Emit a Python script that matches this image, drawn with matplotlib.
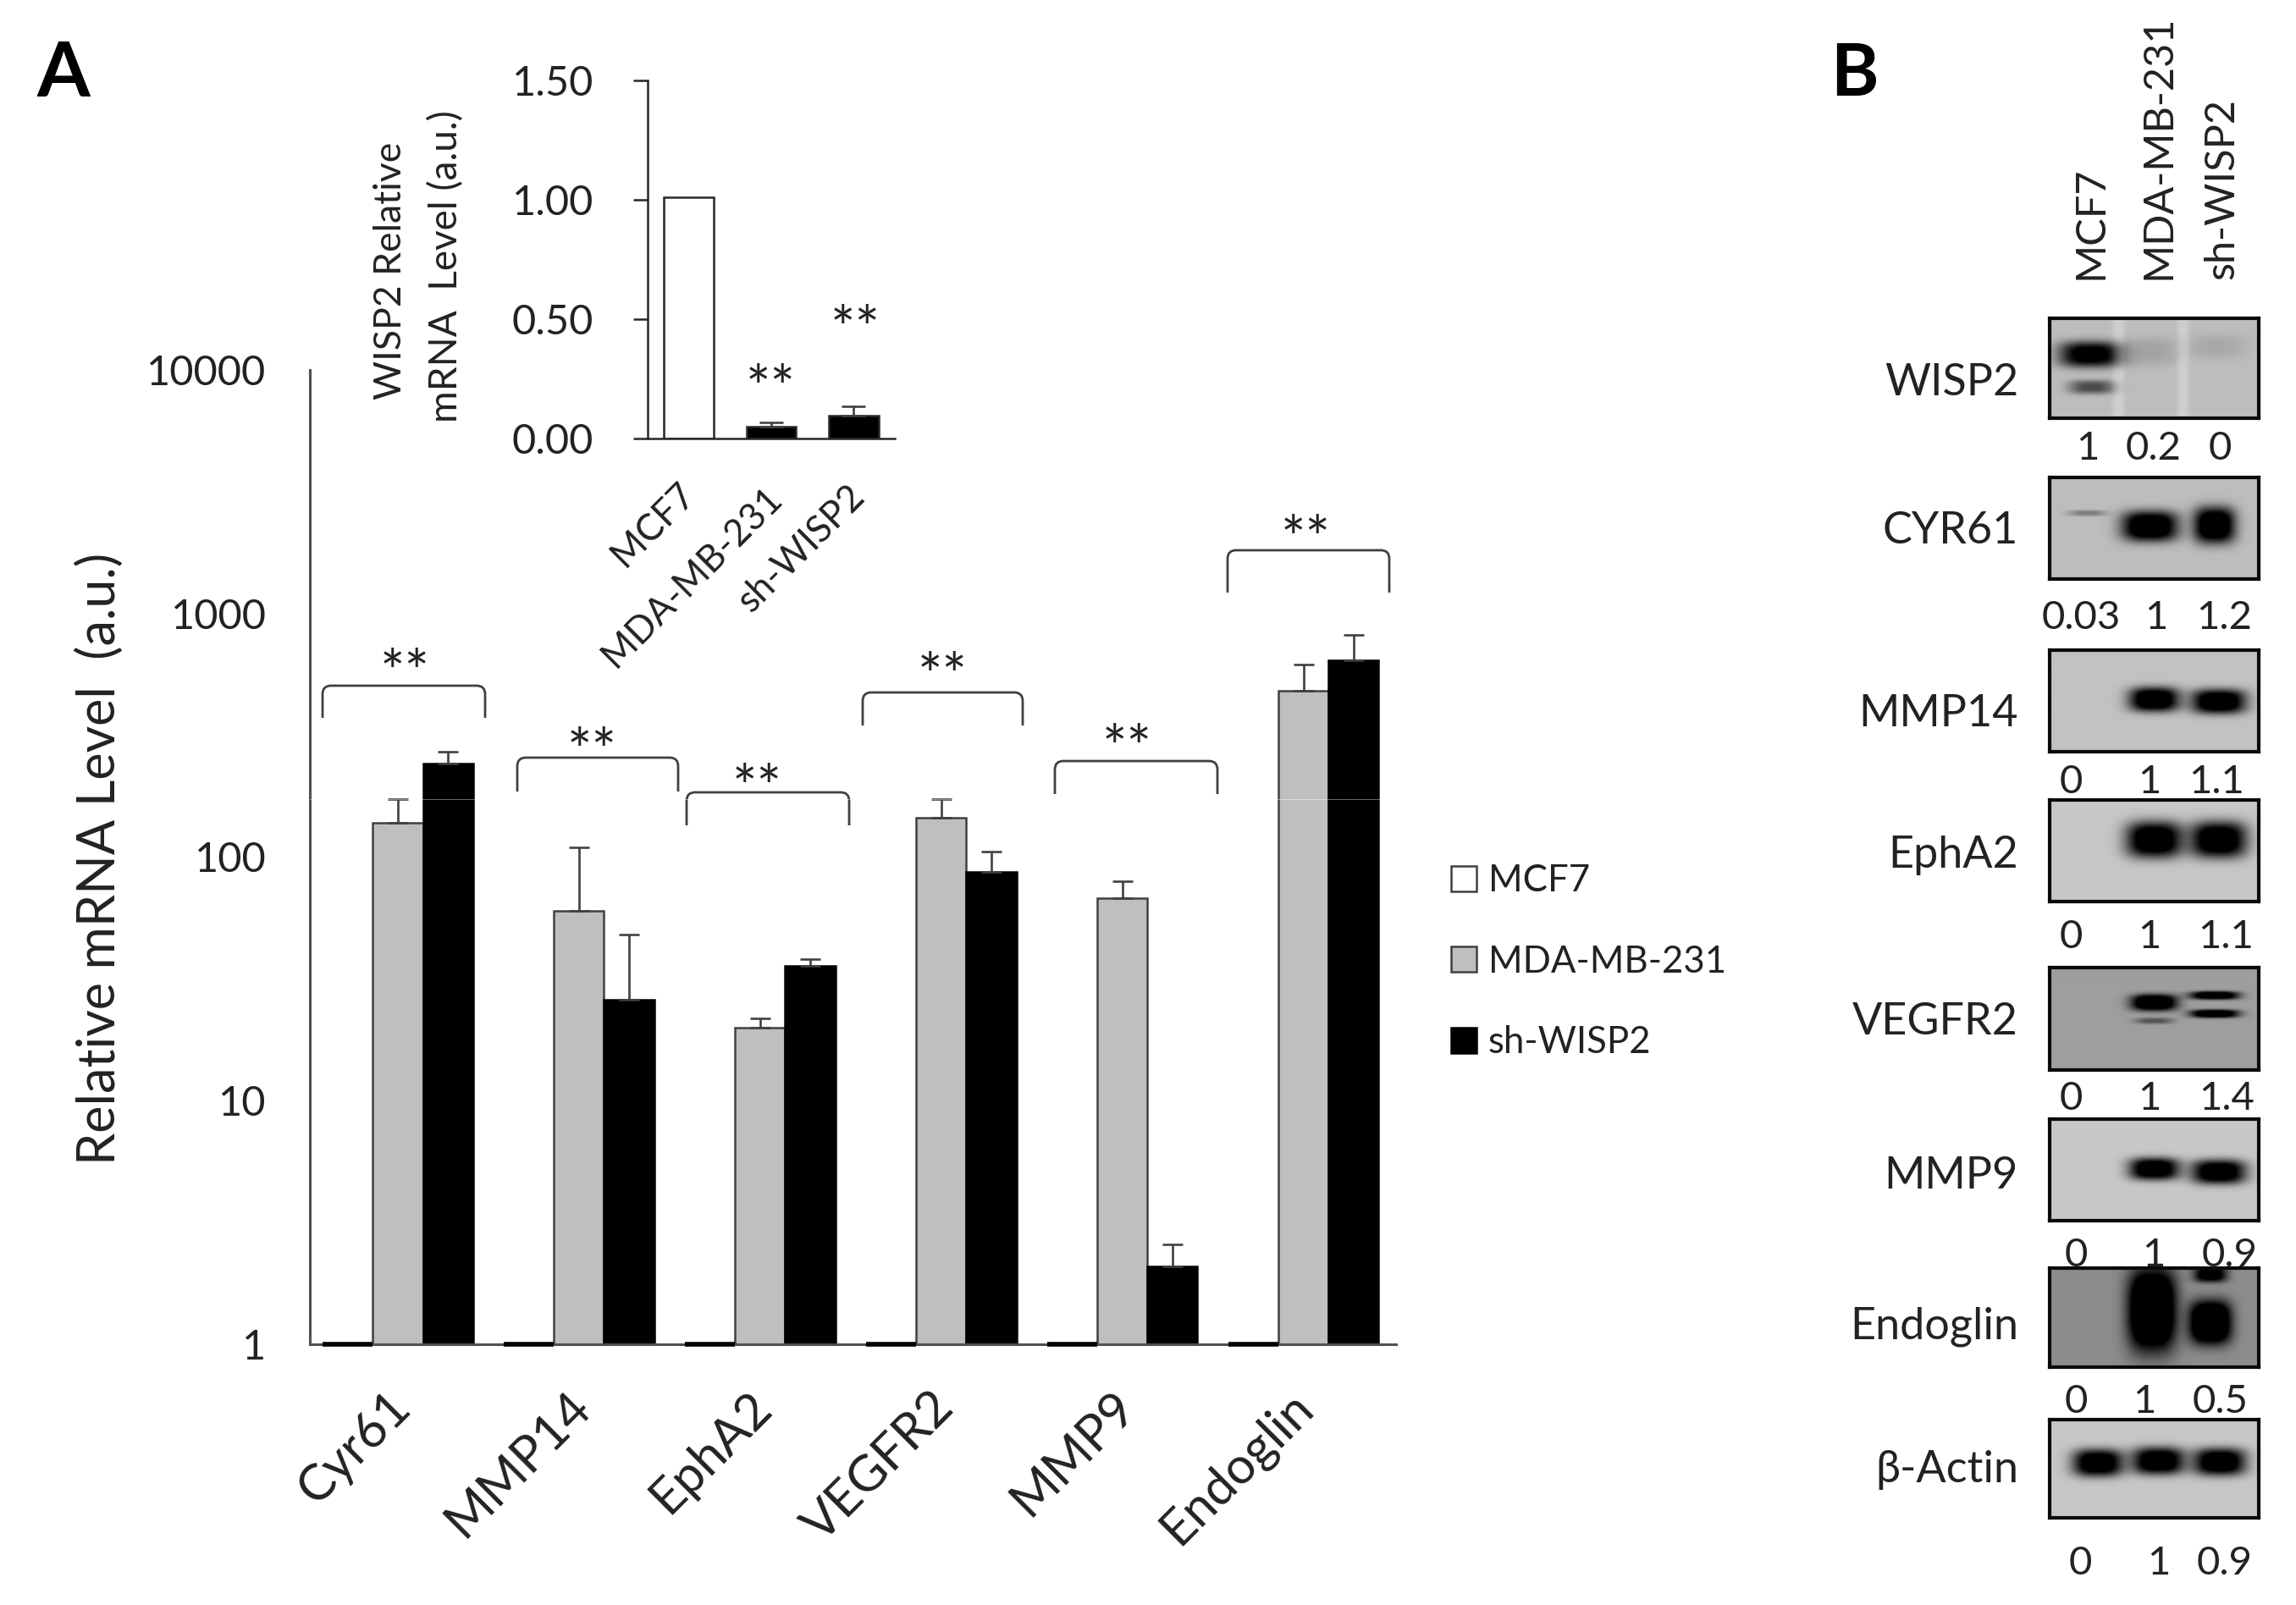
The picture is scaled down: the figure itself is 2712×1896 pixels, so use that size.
import matplotlib
matplotlib.use("Agg")
import matplotlib.pyplot as plt
import numpy as np
from matplotlib.patches import Patch
from matplotlib.path import Path
from matplotlib.patches import PathPatch

plt.rcParams['font.family'] = ['Lato', 'DejaVu Sans']

W, H = 2712, 1896
DARK = '#222222'
EDGE = '#404040'

# Panel A data
genes = ['Cyr61', 'MMP14', 'EphA2', 'VEGFR2', 'MMP9', 'Endoglin']
series = ['MCF7', 'MDA-MB-231', 'sh-WISP2']
mcf7 = [1, 1, 1, 1, 1, 1]
mda = [138, 60, 19.9, 145, 68, 483]
mda_top = [173, 110, 21.8, 173, 79.5, 618]
sh = [243, 25.9, 35.8, 86.6, 2.08, 642]
sh_top = [270, 48, 38.2, 105, 2.58, 816]

# Inset data
wisp2_vals = [1.01, 0.048, 0.096]
wisp2_top = [1.01, 0.068, 0.133]

# Significance brackets in pixels: left, right, top, bottom, star x, star y
brackets = [
    (381, 573, 810, 848, 478, 777),
    (611, 801, 895, 935, 699, 869),
    (811, 1003, 936, 975, 894, 912),
    (1019, 1208, 818, 857, 1113, 780),
    (1246, 1438, 899, 938, 1331, 865),
    (1450, 1641, 650, 700, 1542, 619),
]

# Panel B data
blot_names = ['WISP2', 'CYR61', 'MMP14', 'EphA2', 'VEGFR2', 'MMP9', 'Endoglin', 'β-Actin']
blot_y = [(376, 494), (564, 684), (768, 888), (945, 1065),
          (1143, 1264), (1322, 1442), (1498, 1615), (1677, 1793)]
name_y = [448, 624, 839, 1007, 1203, 1385, 1563, 1733]
blot_bg = [0.74, 0.74, 0.76, 0.78, 0.62, 0.78, 0.55, 0.78]
# bands: centre x, centre y, half width, half height, strength (fractions of panel)
blot_bands = [
    [(.193, .36, .15, .13, .85), (.20, .69, .11, .07, .45), (.485, .33, .13, .14, .10),
     (.80, .28, .14, .12, .08), (.33, .5, .03, 1.5, -.07), (.64, .5, .03, 1.5, -.07)],
    [(.18, .35, .09, .03, .25), (.48, .48, .135, .15, 1), (.79, .47, .10, .18, 1)],
    [(.50, .49, .12, .12, 1), (.81, .51, .13, .12, 1)],
    [(.50, .39, .135, .18, 1), (.81, .39, .135, .18, 1)],
    [(.50, .34, .11, .08, .95), (.50, .52, .09, .03, .3), (.79, .27, .115, .04, .9), (.79, .45, .115, .04, .9)],
    [(.50, .49, .12, .11, 1), (.81, .52, .13, .12, 1)],
    [(.49, .42, .115, .42, 1), (.77, .55, .10, .22, 1), (.77, .06, .08, .08, .7)],
    [(.23, .44, .12, .14, 1), (.52, .42, .125, .14, 1), (.815, .43, .125, .14, 1)],
]
quant_labels = [
    ['1', '0.2', '0'], ['0.03', '1', '1.2'], ['0', '1', '1.1'], ['0', '1', '1.1'],
    ['0', '1', '1.4'], ['0', '1', '0.9'], ['0', '1', '0.5'], ['0', '1', '0.9'],
]
quant_x = [
    (2466, 2544, 2622), (2458, 2547, 2627), (2446, 2539, 2618), (2446, 2539, 2629),
    (2446, 2539, 2630), (2452, 2544, 2634), (2452, 2533, 2623), (2457, 2550, 2628),
]
quant_y = [530, 730, 924, 1107, 1298, 1483, 1656, 1847]
lane_labels = ['MCF7', 'MDA-MB-231', 'sh-WISP2']
lane_x = [2470, 2549, 2624]


def px_axes(x0, y0, x1, y1, **kw):
    # axes from a pixel box, y measured from the top
    return fig.add_axes([x0 / W, 1 - y1 / H, (x1 - x0) / W, (y1 - y0) / H], **kw)


fig = plt.figure(figsize=(W / 100, H / 100), dpi=100, facecolor='white')

# Main chart
ax = px_axes(366, 437, 1649, 1588)
x = np.arange(len(genes))
bw = 0.276
ax.hlines(mcf7, x - 1.5 * bw, x - 0.5 * bw, colors='black', linewidth=4, clip_on=False, zorder=3)
ax.bar(x, np.array(mda) - 1, bw, bottom=1, color='#BFBFBF', edgecolor=EDGE, linewidth=1.8)
ax.bar(x + bw, np.array(sh) - 1, bw, bottom=1, color='black', edgecolor='black', linewidth=1.8)
ax.errorbar(x, mda, yerr=[np.zeros(6), np.array(mda_top) - np.array(mda)], fmt='none',
            ecolor=EDGE, elinewidth=1.9, capsize=8.5, capthick=1.9)
ax.errorbar(x + bw, sh, yerr=[np.zeros(6), np.array(sh_top) - np.array(sh)], fmt='none',
            ecolor=EDGE, elinewidth=1.9, capsize=8.5, capthick=1.9)
ax.set_yscale('log')
ax.set_ylim(1, 10000)
ax.set_xlim(-0.486, 5.51)
ax.set_yticks([1, 10, 100, 1000, 10000])
ax.set_yticklabels(['1', '10', '100', '1000', '10000'], fontsize=35, color=DARK)
ax.minorticks_off()
ax.tick_params(axis='y', length=0, pad=37)
ax.set_xticks([])
for s in ['top', 'right']:
    ax.spines[s].set_visible(False)
for s in ['left', 'bottom']:
    ax.spines[s].set_color('#505050')
    ax.spines[s].set_linewidth(2.2)
xlab_off = [10, 9, 9, 10, 11, 6]
for i, g in enumerate(genes):
    ax.annotate(g, xy=(i, 0), xycoords=ax.get_xaxis_transform(),
                xytext=(xlab_off[i] * 0.72 - 17, -33), textcoords='offset points',
                rotation=45, rotation_mode='anchor', ha='right', va='top',
                fontsize=43, color=DARK)

# Inset
ins = px_axes(765, 95, 1057, 518)
xi = np.arange(3)
ins.bar(xi, wisp2_vals, 0.6, color=['white', 'black', 'black'], edgecolor='#262626', linewidth=1.8)
ins.errorbar(xi[1:], wisp2_vals[1:], yerr=[[0, 0], np.array(wisp2_top[1:]) - np.array(wisp2_vals[1:])],
             fmt='none', ecolor=EDGE, elinewidth=1.9, capsize=10, capthick=1.9)
ins.set_xlim(-0.5, 2.5)
ins.set_ylim(0, 1.5)
ins.set_yticks([0, 0.5, 1.0, 1.5])
ins.set_yticklabels(['0.00', '0.50', '1.00', '1.50'], fontsize=35, color=DARK)
ins.tick_params(axis='y', length=12, width=1.8, color='#262626', pad=34)
ins.set_xticks([])
ins.patch.set_alpha(0)
for s in ['top', 'right']:
    ins.spines[s].set_visible(False)
for s in ['left', 'bottom']:
    ins.spines[s].set_color('#262626')
    ins.spines[s].set_linewidth(1.8)

# Blots
for box, bg, bands in zip(blot_y, blot_bg, blot_bands):
    b = px_axes(2421, box[0], 2668, box[1])
    yy, xx = np.mgrid[0:1:120j, 0:1:247j]
    img = np.full(xx.shape, bg)
    for cx, cy, hw, hh, st in bands:
        img -= st * np.exp(-(np.abs((xx - cx) / hw) ** 3 + np.abs((yy - cy) / hh) ** 3))
    b.imshow(np.clip(img, 0, 1), cmap='gray', vmin=0, vmax=1, aspect='auto', interpolation='bilinear')
    b.set_xticks([])
    b.set_yticks([])
    for s in b.spines.values():
        s.set_linewidth(3)
        s.set_color('#0a0a0a')

# Overlay in pixel coordinates for annotations
ov = fig.add_axes([0, 0, 1, 1], zorder=5)
ov.set_xlim(0, W)
ov.set_ylim(H, 0)
ov.axis('off')
ov.patch.set_alpha(0)

ov.text(75, 88, 'A', fontsize=65, fontweight='bold', ha='center', va='center', color='black')
ov.text(2190, 88, 'B', fontsize=62, fontweight='bold', ha='center', va='center', color='black')
ov.text(118, 1014, 'Relative mRNA Level  (a.u.)', fontsize=44, rotation=90, ha='center', va='center', color=DARK)
ov.text(462, 320, 'WISP2 Relative', fontsize=32, rotation=90, ha='center', va='center', color=DARK)
ov.text(527, 315, 'mRNA  Level (a.u.)', fontsize=33, rotation=90, ha='center', va='center', color=DARK)

# seam left in the source image, shows only across the dark bars
ov.plot([366, 1649], [944, 944], color='white', lw=0.5, alpha=0.6)

for l, r, top, bot, sx, sy in brackets:
    rr = 10
    verts = [(l, bot), (l, top + rr), (l, top), (l + rr, top), (r - rr, top), (r, top), (r, top + rr), (r, bot)]
    codes = [Path.MOVETO, Path.LINETO, Path.CURVE3, Path.CURVE3, Path.LINETO, Path.CURVE3, Path.CURVE3, Path.LINETO]
    ov.add_patch(PathPatch(Path(verts, codes), fill=False, edgecolor=EDGE, lw=2))
    ov.text(sx, sy + 22, '**', fontsize=50, ha='center', va='center', color=DARK)

ov.text(910, 462, '**', fontsize=50, ha='center', va='center', color=DARK)
ov.text(1010, 392, '**', fontsize=50, ha='center', va='center', color=DARK)

for label, xr, yr in zip(series, (800, 902, 1000), (563, 568, 566)):
    ov.text(xr, yr, label, fontsize=31.5, rotation=45, rotation_mode='anchor', ha='right', va='top', color=DARK)

for name, yc in zip(blot_names, name_y):
    ov.text(2384, yc + 4, name, fontsize=37.5, ha='right', va='center', color=DARK)
for labels, xs, yc in zip(quant_labels, quant_x, quant_y):
    for t, xc in zip(labels, xs):
        ov.text(xc, yc, t, fontsize=34, ha='center', va='center', color=DARK)
for t, xc in zip(lane_labels, lane_x):
    ov.text(xc, 330, t, fontsize=35, rotation=90, ha='center', va='bottom', color=DARK)

# Legend
handles = [Patch(facecolor='white', edgecolor=EDGE, linewidth=1.8),
           Patch(facecolor='#BFBFBF', edgecolor=EDGE, linewidth=1.8),
           Patch(facecolor='black', edgecolor='black', linewidth=1.8)]
fs_px = 31.5 * 100 / 72
fig.legend(handles, series, loc='upper left', bbox_to_anchor=(1714 / W, 1 - 1020 / H),
           frameon=False, fontsize=31.5, labelcolor=DARK, borderpad=0, borderaxespad=0,
           handlelength=30 / fs_px, handleheight=30 / fs_px, handletextpad=14 / fs_px,
           labelspacing=1.25)

fig.savefig('out.png', dpi=100, facecolor='white')
